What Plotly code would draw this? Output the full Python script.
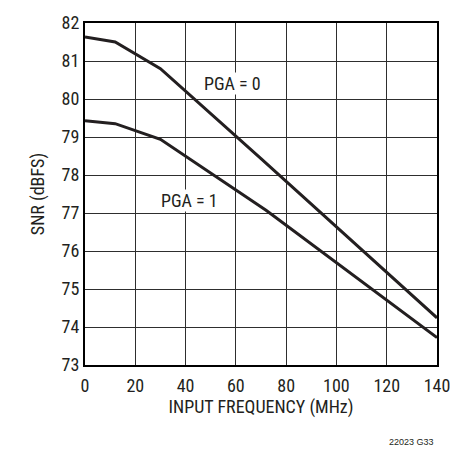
import plotly.graph_objects as go

# SNR vs input frequency
freq_pga0 = [0, 12, 30, 70, 140]
snr_pga0 = [81.63, 81.50, 80.80, 78.43, 74.24]

freq_pga1 = [0, 12, 30, 72, 140]
snr_pga1 = [79.43, 79.35, 78.94, 77.07, 73.72]

x_ticks = [0, 20, 40, 60, 80, 100, 120, 140]
y_ticks = [73, 74, 75, 76, 77, 78, 79, 80, 81, 82]

font_family = "Liberation Sans Narrow, Roboto Condensed, Arial Narrow, sans-serif"
ink = "#231f20"

data = [
    go.Scatter(x=freq_pga0, y=snr_pga0, mode="lines", name="PGA = 0",
               line=dict(color=ink, width=3)),
    go.Scatter(x=freq_pga1, y=snr_pga1, mode="lines", name="PGA = 1",
               line=dict(color=ink, width=3)),
]

axis_common = dict(showgrid=True, gridcolor="#2e2e2e", gridwidth=1,
                   showline=True, linecolor="black", linewidth=2, mirror=True,
                   zeroline=False, ticks="", color="black",
                   tickfont=dict(family=font_family, size=18, color=ink),
                   title_font=dict(family=font_family, size=18, color=ink))

# plot area in page pixels: x 85..437, y 14..365
pw, ph = 465 - 85 - 28, 449 - 14 - 84

layout = go.Layout(
    width=465, height=449,
    margin=dict(l=85, r=28, t=14, b=84),
    paper_bgcolor="white", plot_bgcolor="white",
    showlegend=False,
    xaxis=dict(range=[0, 140], tickvals=x_ticks, ticklabelstandoff=3,
               title=dict(text="INPUT FREQUENCY (MHz)", standoff=6), **axis_common),
    yaxis=dict(range=[73, 82], tickvals=y_ticks, title=dict(text="SNR (dBFS)", standoff=12),
               **axis_common),
    annotations=[
        dict(x=58.7, y=80.42, text="PGA = 0", showarrow=False, bgcolor="white", borderpad=0,
             font=dict(family=font_family, size=18, color=ink)),
        dict(x=41.7, y=77.32, text="PGA = 1", showarrow=False, bgcolor="white", borderpad=0,
             font=dict(family=font_family, size=18, color=ink)),
        dict(x=(411 - 85) / pw, y=-(444 - 365) / ph, xref="paper", yref="paper",
             text="22023 G33", showarrow=False, xanchor="center", yanchor="middle",
             font=dict(family="Liberation Sans, Arial, sans-serif", size=9, color=ink)),
    ],
)

fig = go.Figure(data=data, layout=layout)
# drop the browser's default 8px body margin so the figure sits at the page corner
fig.write_html("out.html", config={"displayModeBar": False},
               post_script="document.body.style.margin = '0';")
